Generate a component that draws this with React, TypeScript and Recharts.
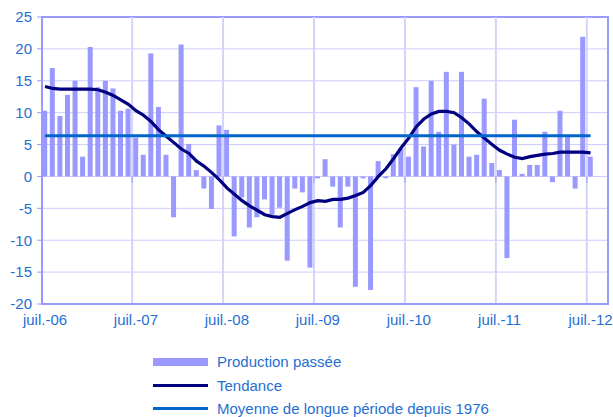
import { ComposedChart, Bar, Line, XAxis, YAxis, CartesianGrid, ReferenceLine, ReferenceArea } from 'recharts';

// monthly, juil. 2006 -> juil. 2012
const tickLabels = ['juil.-06', 'juil.-07', 'juil.-08', 'juil.-09', 'juil.-10', 'juil.-11', 'juil.-12'];

const production = [
    10.3, 17.0, 9.5, 12.8, 15.0, 3.1, 20.3, 14.0, 15.0, 13.8, 10.3, 10.6,
    6.1, 3.4, 19.3, 10.9, 3.4, -6.4, 20.7, 5.1, 1.0, -1.9, -5.1, 8.0,
    7.3, -9.4, -3.3, -8.0, -6.4, -3.6, -6.0, -4.9, -13.2, -1.9, -2.5, -14.3,
    -0.3, 2.7, -1.6, -8.0, -1.6, -17.3, -0.3, -17.8, 2.4, -0.3, 3.5, 4.4,
    3.1, 14.0, 4.7, 15.0, 7.0, 16.4, 5.0, 16.4, 3.1, 3.4, 12.2, 2.1,
    1.0, -12.8, 8.9, 0.4, 1.8, 1.8, 7.0, -0.9, 10.3, 6.2, -1.9, 21.9,
    3.1,
];

const tendance = [
    14.1, 13.8, 13.7, 13.7, 13.7, 13.7, 13.7, 13.6, 13.2, 12.7, 12.0, 11.3,
    10.3, 9.6, 8.6, 7.3, 6.3, 5.3, 4.3, 3.6, 2.4, 1.6, 0.6, -0.5,
    -1.8, -2.8, -3.8, -4.6, -5.3, -6.0, -6.3, -6.4, -5.8, -5.2, -4.7, -4.1,
    -3.8, -3.9, -3.6, -3.6, -3.4, -3.0, -2.5, -1.4, 0.0, 1.2, 2.8, 4.5,
    6.0, 7.8, 9.0, 9.8, 10.2, 10.2, 10.0, 9.2, 8.2, 7.0, 6.0, 5.0,
    4.1, 3.5, 3.0, 2.8, 3.1, 3.3, 3.5, 3.6, 3.8, 3.8, 3.8, 3.8,
    3.7,
];

const moyenneLongue = 6.4;

const yTicks = [-20, -15, -10, -5, 0, 5, 10, 15, 20, 25];

const data = production.map((v, i) => ({
    x: i,
    production: v,
    tendance: tendance[i],
    moyenne: moyenneLongue,
}));

const BLUE_TEXT = '#1F6FD2';
const FONT = '"Liberation Sans", Arial, sans-serif';

export default function App() {
    const yearMarks = tickLabels.slice(1).map((_, k) => 12 * (k + 1) - 0.5);

    return (
        <div style={{ position: 'absolute', left: 0, top: 0, width: 613, height: 417, background: '#fff', fontFamily: FONT }}>
            <ComposedChart
                width={613}
                height={417}
                data={data}
                margin={{ top: 17, right: 5, bottom: 83, left: 0 }}
            >
                <CartesianGrid vertical={false} stroke="#CCCCFF" strokeWidth={1} />
                <XAxis
                    dataKey="x"
                    type="number"
                    domain={[-0.4, 74.3]}
                    allowDataOverflow
                    ticks={[0, 12, 24, 36, 48, 60, 72]}
                    tickFormatter={(v) => tickLabels[Math.round(v / 12)]}
                    height={30}
                    tickLine={false}
                    tickSize={0}
                    tickMargin={10}
                    axisLine={{ stroke: '#9999FF', strokeWidth: 2 }}
                    tick={{ fontSize: 15, fill: BLUE_TEXT, fontFamily: FONT }}
                />
                <YAxis
                    domain={[-20, 25]}
                    ticks={yTicks}
                    width={42}
                    interval={0}
                    tickSize={5}
                    tickMargin={5}
                    tickLine={{ stroke: '#9999FF' }}
                    axisLine={{ stroke: '#9999FF', strokeWidth: 2 }}
                    tick={{ fontSize: 15, fill: BLUE_TEXT, fontFamily: FONT }}
                />
                {yearMarks.map((m) => (
                    <ReferenceLine key={'g' + m} x={m} stroke="#D4D4FA" strokeWidth={2} />
                ))}
                {yearMarks.map((m) => (
                    <ReferenceLine
                        key={'t' + m}
                        segment={[{ x: m, y: 0 }, { x: m, y: -1 }]}
                        stroke="#9999FF"
                    />
                ))}
                <ReferenceArea x1={-0.4} x2={74.3} y1={-20} y2={25} fill="none" stroke="#9999FF" strokeWidth={2} />
                <Bar dataKey="production" fill="#9999FF" barSize={5} isAnimationActive={false} />
                <Line
                    dataKey="tendance"
                    type="linear"
                    stroke="#000080"
                    strokeWidth={3.2}
                    dot={false}
                    isAnimationActive={false}
                />
                <Line
                    dataKey="moyenne"
                    type="linear"
                    stroke="#0066CC"
                    strokeWidth={3}
                    dot={false}
                    isAnimationActive={false}
                />
            </ComposedChart>

            {/* Legend */}
            <div style={{ position: 'absolute', left: 153, top: 350, fontSize: 15, color: BLUE_TEXT, lineHeight: '23.5px' }}>
                <div style={{ display: 'flex', alignItems: 'center' }}>
                    <div style={{ width: 55, height: 8, background: '#9999FF', marginRight: 9 }} />
                    <span>Production passée</span>
                </div>
                <div style={{ display: 'flex', alignItems: 'center' }}>
                    <div style={{ width: 55, height: 3, background: '#000080', marginRight: 9 }} />
                    <span>Tendance</span>
                </div>
                <div style={{ display: 'flex', alignItems: 'center' }}>
                    <div style={{ width: 55, height: 3, background: '#0066CC', marginRight: 9 }} />
                    <span>Moyenne de longue période depuis 1976</span>
                </div>
            </div>
        </div>
    );
}
